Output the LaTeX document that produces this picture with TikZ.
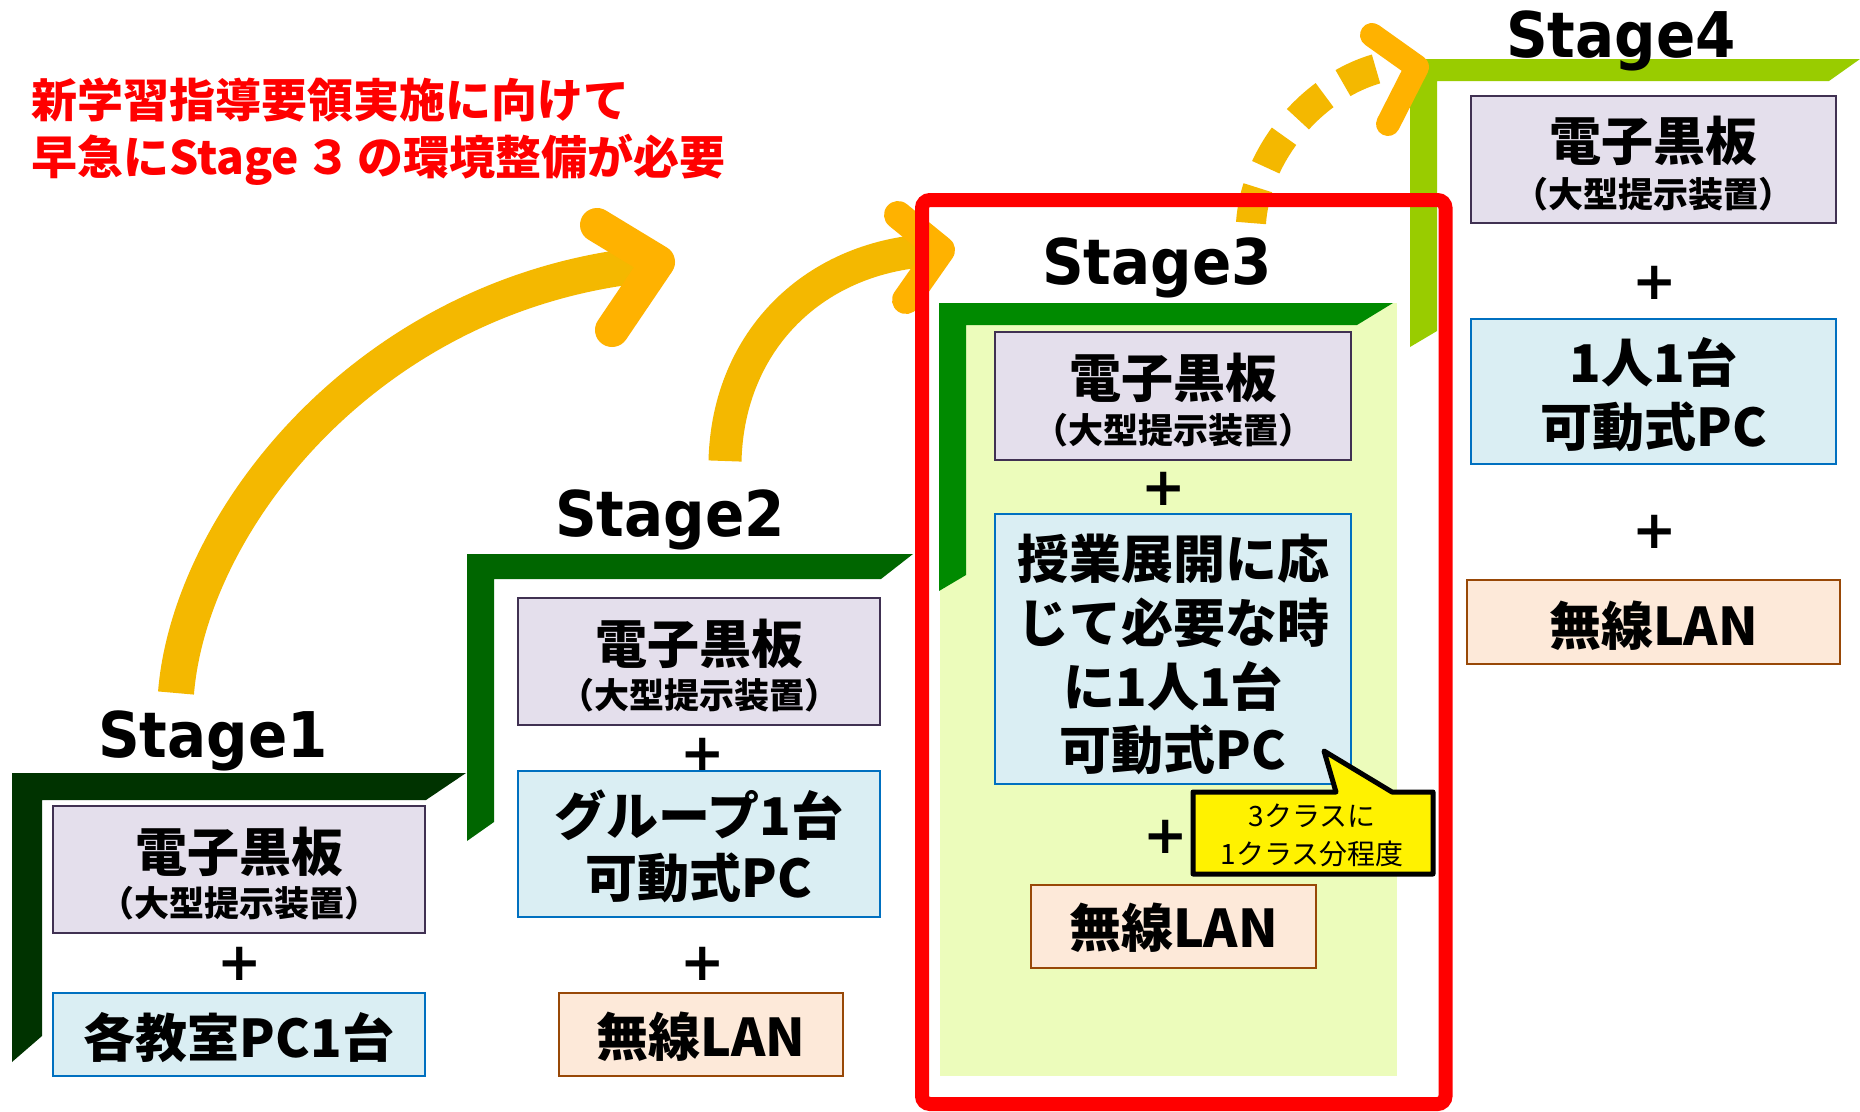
\documentclass[tikz,border=0pt]{standalone}
\usepackage{fontspec}
\newfontfamily\jp{Noto Sans CJK JP}[BoldFont={Noto Sans CJK JP Black}]
\newfontfamily\stagefont{DejaVu Sans}[FakeStretch=0.92]
\newfontfamily\plusfont{DejaVu Sans}
\definecolor{lavfill}{HTML}{E4DFEC}
\definecolor{lavline}{HTML}{403152}
\definecolor{blufill}{HTML}{DAEEF3}
\definecolor{bluline}{HTML}{0070C0}
\definecolor{pchfill}{HTML}{FDE9D9}
\definecolor{pchline}{HTML}{984807}
\definecolor{stgA}{HTML}{003300}
\definecolor{stgB}{HTML}{006600}
\definecolor{stgC}{HTML}{008A00}
\definecolor{stgD}{HTML}{99CC00}
\definecolor{bgC}{HTML}{ECFCBB}
\definecolor{arrline}{HTML}{F4B800}
\definecolor{arrhd}{HTML}{FFB200}
\definecolor{redline}{HTML}{FF0000}
\begin{document}
\begin{tikzpicture}[x=1pt,y=-1pt,
  lav/.style={draw=lavline, fill=lavfill, line width=2.5pt, inner sep=0pt, rectangle},
  blu/.style={draw=bluline, fill=blufill, line width=2.5pt, inner sep=0pt, rectangle},
  pch/.style={draw=pchline, fill=pchfill, line width=2.5pt, inner sep=0pt, rectangle},
  txtbig/.style={font=\jp\bfseries\fontsize{52}{60}\selectfont, anchor=base, inner sep=0pt},
  txtsmall/.style={font=\jp\bfseries\fontsize{35}{40}\selectfont, anchor=base, inner sep=0pt},
  plussign/.style={font=\plusfont\bfseries\fontsize{53}{60}\selectfont, anchor=base, inner sep=0pt},
  stg/.style={font=\stagefont\bfseries\fontsize{63}{70}\selectfont, anchor=base, inner sep=0pt},
  redtxt/.style={font=\jp\bfseries\fontsize{46}{52}\selectfont, text=redline, anchor=base west, inner sep=0pt},
  shaft/.style={draw=arrline, line cap=butt},
  arrhead/.style={draw=arrhd, line cap=round, line join=round}
]
\fill[white] (0,0) rectangle (1860,1111);
\useasboundingbox (0,0) rectangle (1860,1111);

% Stage3 background
\fill[bgC] (940,303) rectangle (1397,1076);

% step frames
\fill[stgA] (12,773) -- (466,773) -- (426,800) -- (42,800) -- (42,1036) -- (12,1062) -- cycle;
\fill[stgB] (467,554) -- (913,554) -- (881,579) -- (494,579) -- (494,822) -- (467,841) -- cycle;
\fill[stgC] (939,303) -- (1393,303) -- (1357,325) -- (966,325) -- (966,575) -- (939,591) -- cycle;
\fill[stgD] (1410,59) -- (1860,59) -- (1829,81) -- (1437,81) -- (1437,331) -- (1410,347) -- cycle;

% arrows
\coordinate (a1s) at (176,693);
\coordinate (a1e) at (652,264);
\draw[shaft, line width=36pt] (a1s) .. controls (190,520) and (370,290) .. (a1e);
\coordinate (a1t) at (658,262);
\draw[arrhead, line width=34pt] (597,225) -- (a1t) -- (612,330);

\coordinate (a2s) at (725,461);
\coordinate (a2e) at (935,250);
\draw[shaft, line width=33pt] (a2s) .. controls (728,340) and (815,255) .. (a2e);
\coordinate (a2t) at (941,250);
\draw[arrhead, line width=28pt] (898,215) -- (a2t) -- (906,300);

\coordinate (a3s) at (1251,223);
\coordinate (a3e) at (1388,66);
\draw[shaft, line width=30pt, dash pattern=on 36pt off 22pt] (a3s) .. controls (1256,150) and (1318,80) .. (a3e);
\coordinate (a3t) at (1417,67);
\draw[arrhead, line width=24pt] (1372,35) -- (a3t) -- (1388,124);

% red frame
\draw[redline, line width=14pt, rounded corners=8pt] (922,200) rectangle (1445.5,1104);

% Stage titles
\node[stg] (t1) at (213,757) {Stage1};
\node[stg] (t2) at (670,536) {Stage2};
\node[stg] (t3) at (1157,284) {Stage3};
\node[stg] (t4) at (1621,57) {Stage4};

% red message
\node[redtxt] (m1) at (31,117.5) {新学習指導要領実施に向けて};
\node[redtxt] (m2) at (31,174.5) {早急にStage\hspace{6pt}３\hspace{6pt}の環境整備が必要};

% Stage1 boxes
\node[lav, minimum width=372pt, minimum height=127pt] (s1a) at (239,869.5) {};
\node[txtbig] (s1a1) at (239,871) {電子黒板};
\node[txtsmall] (s1a2) at (239,916) {（大型提示装置）};
\node[plussign] (p1) at (240,980) {+};
\node[blu, minimum width=372pt, minimum height=83pt] (s1b) at (239,1034.5) {};
\node[txtbig] (s1b1) at (239,1057) {各教室PC1台};

% Stage2 boxes
\node[lav, minimum width=362pt, minimum height=127pt] (s2a) at (699,661.5) {};
\node[txtbig] (s2a1) at (699,663) {電子黒板};
\node[txtsmall] (s2a2) at (699,708) {（大型提示装置）};
\node[plussign] (p2) at (703,771) {+};
\node[blu, minimum width=362pt, minimum height=146pt] (s2b) at (699,844) {};
\node[txtbig] (s2b1) at (699,835) {グループ1台};
\node[txtbig] (s2b2) at (699,897) {可動式PC};
\node[plussign] (p3) at (703,980) {+};
\node[pch, minimum width=284pt, minimum height=83pt] (s2c) at (701,1034.5) {};
\node[txtbig] (s2c1) at (701,1056) {無線LAN};

% Stage3 boxes
\node[lav, minimum width=356pt, minimum height=128pt] (s3a) at (1173,396) {};
\node[txtbig] (s3a1) at (1173,397) {電子黒板};
\node[txtsmall] (s3a2) at (1173,443) {（大型提示装置）};
\node[plussign] (p4) at (1164,505) {+};
\node[blu, minimum width=356pt, minimum height=270pt] (s3b) at (1173,649) {};
\node[txtbig] (s3b1) at (1173,578) {授業展開に応};
\node[txtbig] (s3b2) at (1173,642) {じて必要な時};
\node[txtbig] (s3b3) at (1173,706) {に1人1台};
\node[txtbig] (s3b4) at (1173,769) {可動式PC};
\node[plussign] (p5) at (1166,853) {+};
\node[pch, minimum width=285pt, minimum height=83pt] (s3c) at (1173.5,926.5) {};
\node[txtbig] (s3c1) at (1173.5,947) {無線LAN};

% callout
\draw[fill=yellow, draw=black, line width=5pt, line join=round] (1193,792) -- (1336,792) -- (1324,751) -- (1392,792) -- (1433,792) -- (1433,874) -- (1193,874) -- cycle;
\node[font=\jp\fontsize{28}{32}\selectfont, anchor=base, inner sep=0pt] (c1) at (1312,826) {3クラスに};
\node[font=\jp\fontsize{28}{32}\selectfont, anchor=base, inner sep=0pt] (c2) at (1312,864) {1クラス分程度};

% Stage4 boxes
\node[lav, minimum width=365pt, minimum height=127pt] (s4a) at (1653.5,159.5) {};
\node[txtbig] (s4a1) at (1653.5,160) {電子黒板};
\node[txtsmall] (s4a2) at (1653.5,207) {（大型提示装置）};
\node[plussign] (p6) at (1655,299) {+};
\node[blu, minimum width=365pt, minimum height=145pt] (s4b) at (1653.5,391.5) {};
\node[txtbig] (s4b1) at (1653.5,382) {1人1台};
\node[txtbig] (s4b2) at (1653.5,446) {可動式PC};
\node[plussign] (p7) at (1655,548) {+};
\node[pch, minimum width=373pt, minimum height=84pt] (s4c) at (1653.5,622) {};
\node[txtbig] (s4c1) at (1653.5,645) {無線LAN};
\end{tikzpicture}
\end{document}
